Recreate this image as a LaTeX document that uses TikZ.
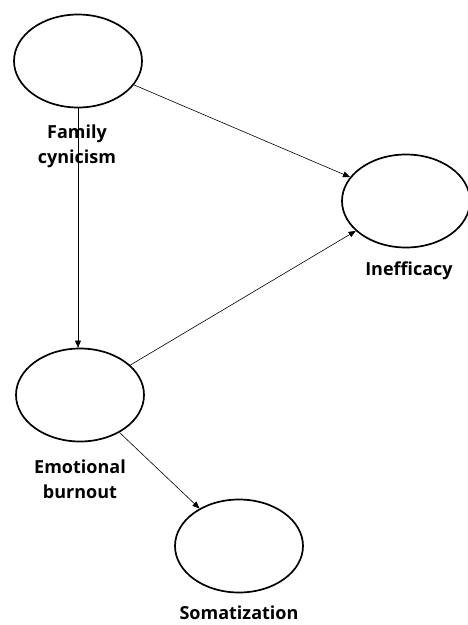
\documentclass[tikz,border=0pt]{standalone}
\usepackage{fontspec}
\setmainfont{Open Sans}
\usepackage{tikz}
\usetikzlibrary{arrows,shapes.geometric}

\begin{document}
\begin{tikzpicture}[line cap=round,line join=round,>=triangle 45,x=1pt,y=-1pt,
  latent/.style={draw,ellipse,line width=1.7pt,minimum width=128pt,minimum height=93pt,inner sep=0pt},
  lbl/.style={align=center,font=\fontsize{18}{25}\selectfont\bfseries},
  path/.style={->,line width=0.6pt}]
\useasboundingbox (0,0) rectangle (468,625);
\node[latent] (fam) at (78,61) {};
\node[latent] (ineff) at (406,201) {};
\node[latent] (emo) at (80,395) {};
\node[latent] (som) at (239,546) {};
\draw [path] (fam.south) -- (fam.south |- emo.north);
\draw [path] (fam) -- (ineff);
\draw [path] (emo) -- (ineff);
\draw [path] (emo) -- (som);
\node[lbl] (famlbl) at (77,146) {Family\\cynicism};
\node[lbl] (inefflbl) at (409,271) {Inefficacy};
\node[lbl] (emolbl) at (80,479) {Emotional\\burnout};
\node[lbl] (somlbl) at (239,613) {Somatization};
\end{tikzpicture}
\end{document}
